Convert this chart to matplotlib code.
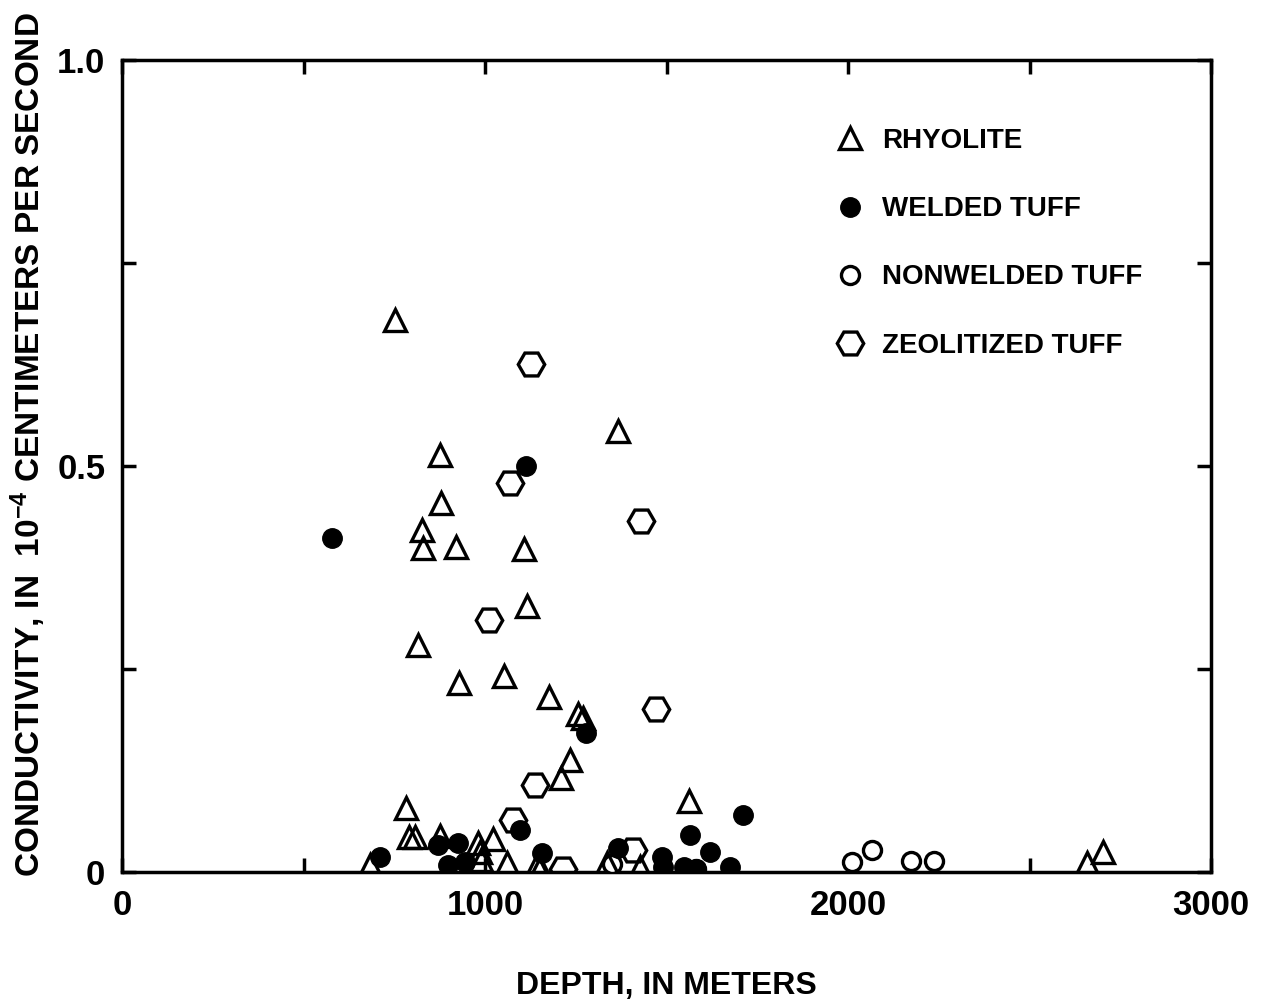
import numpy as np
import matplotlib
matplotlib.use('Agg')
import matplotlib.pyplot as plt

plt.rcParams['font.family'] = ['Liberation Sans', 'DejaVu Sans']
plt.rcParams['font.weight'] = 'bold'
plt.rcParams['mathtext.fontset'] = 'custom'
plt.rcParams['mathtext.bf'] = 'Liberation Sans:bold'
plt.rcParams['mathtext.rm'] = 'Liberation Sans:bold'
plt.rcParams['mathtext.default'] = 'bf'

# depth (m), conductivity (1e-4 cm/s)
rhy_x = [752, 876, 879, 826, 829, 920, 1107, 1116, 815, 928, 1052, 1176, 1366,
         1256, 1270, 1234, 1209, 782, 1562, 790, 807, 876, 981, 985, 990, 1022,
         683, 1061, 1143, 1150, 1336, 1427, 2659, 2702]
rhy_y = [0.680, 0.514, 0.454, 0.421, 0.399, 0.400, 0.398, 0.328, 0.280, 0.233,
         0.241, 0.216, 0.543, 0.195, 0.190, 0.138, 0.116, 0.079, 0.087, 0.043,
         0.043, 0.044, 0.036, 0.025, 0.015, 0.041, 0.009, 0.011, 0.009, 0.005,
         0.011, 0.006, 0.011, 0.025]

wel_x = [579, 1113, 1278, 1711, 1096, 711, 871, 926, 898, 945, 1157, 1366,
         1488, 1490, 1565, 1547, 1580, 1620, 1675]
wel_y = [0.411, 0.500, 0.171, 0.070, 0.052, 0.018, 0.033, 0.036, 0.009, 0.012,
         0.023, 0.030, 0.018, 0.006, 0.046, 0.006, 0.004, 0.025, 0.006]

non_x = [2011, 2066, 2174, 2237, 1350, 1580]
non_y = [0.012, 0.027, 0.014, 0.014, 0.010, 0.004]

zeo_x = [1127, 1069, 1430, 1011, 1471, 1138, 1077, 1215, 1408]
zeo_y = [0.626, 0.479, 0.432, 0.310, 0.201, 0.107, 0.064, 0.004, 0.027]

fig = plt.figure(figsize=(12.67, 10), dpi=100)
ax = fig.add_axes([0.0963, 0.128, 0.8597, 0.812])

lw = 2.4
ax.plot(zeo_x, zeo_y, 'H', ms=19, mfc='white', mec='black', mew=lw,
        ls='none', label='ZEOLITIZED TUFF', zorder=2)
ax.plot(non_x, non_y, 'o', ms=13, mfc='white', mec='black', mew=lw,
        ls='none', label='NONWELDED TUFF', zorder=3)
ax.plot(rhy_x, rhy_y, '^', ms=16, mfc='none', mec='black', mew=lw,
        ls='none', label='RHYOLITE', zorder=4)
ax.plot(wel_x, wel_y, 'o', ms=14, mfc='black', mec='black', mew=1,
        ls='none', label='WELDED TUFF', zorder=5)

ax.set_xlim(0, 3000)
ax.set_ylim(0, 1.0)
ax.set_xticks([0, 1000, 2000, 3000])
ax.set_xticklabels(['0', '1000', '2000', '3000'])
ax.set_xticks([500, 1500, 2500], minor=True)
ax.set_yticks([0, 0.5, 1.0])
ax.set_yticklabels(['0', '0.5', '1.0'])
ax.set_yticks([0.25, 0.75], minor=True)
ax.tick_params(which='both', direction='in', top=True, right=True,
               width=2.5, length=10, labelsize=25, pad=12)
for sp in ax.spines.values():
    sp.set_linewidth(2.5)

ax.set_xlabel('DEPTH, IN METERS', fontsize=23, fontweight='bold')
ax.xaxis.set_label_coords(0.5, -0.122)
ax.set_ylabel(r'CONDUCTIVITY, IN  10$^{-4}$ CENTIMETERS PER SECOND',
              fontsize=24, fontweight='bold')
ax.yaxis.set_label_coords(-0.068, 0.526)

h, l = ax.get_legend_handles_labels()
order = [2, 3, 1, 0]
ax.legend([h[i] for i in order], [l[i] for i in order], loc='upper left',
          bbox_to_anchor=(0.62, 0.947), frameon=False, fontsize=20,
          labelspacing=1.52, handletextpad=0.15, markerscale=1.0)

fig.savefig('out.png', dpi=100)
